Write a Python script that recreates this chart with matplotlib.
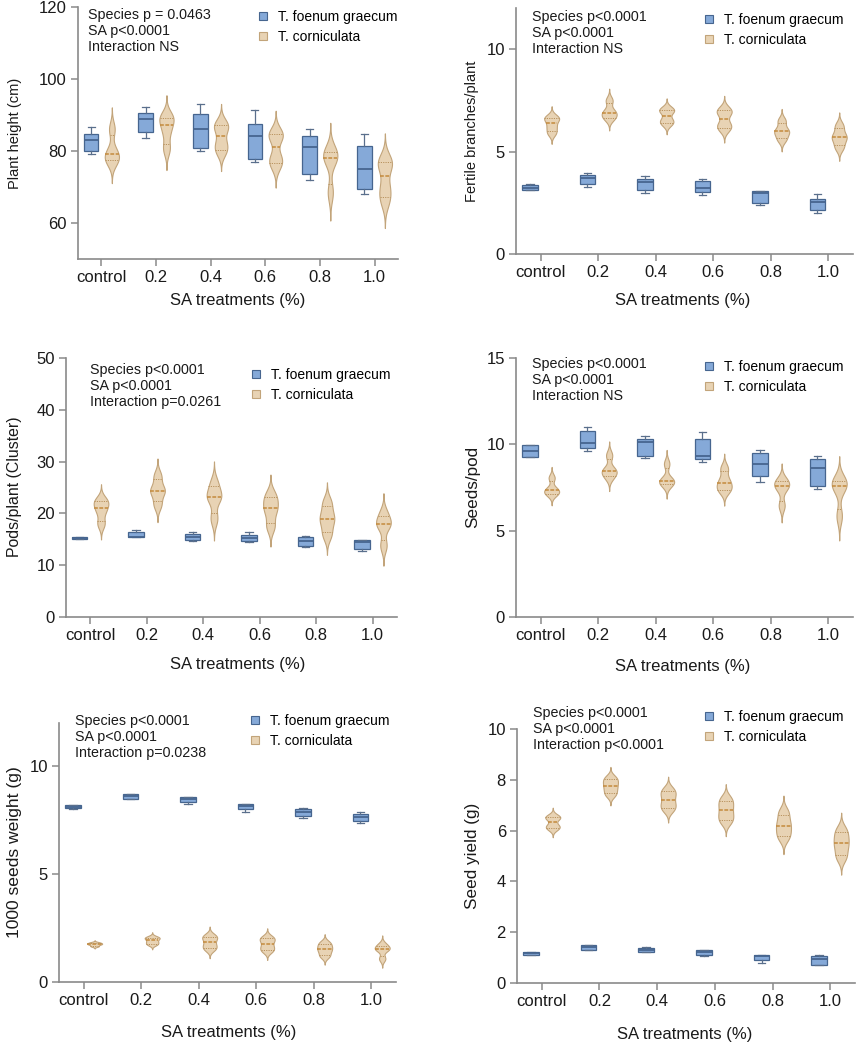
import numpy as np
import matplotlib
matplotlib.use("Agg")
import matplotlib.pyplot as plt
from matplotlib.lines import Line2D

plt.rcParams['font.family'] = ['Liberation Sans', 'DejaVu Sans']

treatments = ['control', '0.2', '0.4', '0.6', '0.8', '1.0']
species = ['T. foenum graecum', 'T. corniculata']

# box stats per treatment for T. foenum graecum: [min, q1, median, q3, max]
height_box = [[79.1, 80.0, 83.0, 84.8, 86.7], [83.7, 85.3, 89.0, 90.5, 92.1],
              [80.0, 80.9, 86.0, 90.2, 93.1], [77.0, 77.9, 84.2, 87.6, 91.3],
              [72.0, 73.5, 81.0, 84.1, 86.0], [68.1, 69.5, 75.0, 81.3, 84.6]]
branches_box = [[3.10, 3.11, 3.24, 3.39, 3.40], [3.29, 3.40, 3.71, 3.87, 3.95],
                [2.98, 3.14, 3.52, 3.68, 3.79], [2.90, 3.03, 3.23, 3.58, 3.68],
                [2.38, 2.51, 2.98, 3.08, 3.09], [2.01, 2.16, 2.53, 2.69, 2.92]]
pods_box = [[15.0, 15.0, 15.2, 15.5, 15.5], [15.35, 15.35, 15.5, 16.4, 16.8],
            [14.7, 14.8, 15.5, 16.1, 16.5], [14.5, 14.6, 15.3, 15.9, 16.5],
            [13.5, 13.7, 14.7, 15.35, 15.6], [12.8, 13.2, 14.4, 14.8, 14.9]]
seeds_box = [[9.27, 9.27, 9.6, 9.98, 9.98], [9.63, 9.79, 10.1, 10.8, 11.0],
             [9.23, 9.3, 10.15, 10.3, 10.5], [9.0, 9.17, 9.3, 10.3, 10.7],
             [7.8, 8.15, 8.88, 9.48, 9.69], [7.41, 7.6, 8.61, 9.15, 9.34]]
weight_box = [[8.03, 8.04, 8.12, 8.20, 8.22], [8.46, 8.49, 8.61, 8.70, 8.73],
              [8.24, 8.32, 8.46, 8.55, 8.58], [7.87, 8.01, 8.15, 8.24, 8.26],
              [7.58, 7.69, 7.87, 8.03, 8.07], [7.38, 7.44, 7.64, 7.78, 7.89]]
yield_box = [[1.12, 1.12, 1.18, 1.23, 1.23], [1.31, 1.31, 1.40, 1.48, 1.48],
             [1.21, 1.21, 1.30, 1.38, 1.40], [1.05, 1.12, 1.21, 1.29, 1.31],
             [0.79, 0.92, 1.05, 1.10, 1.11], [0.72, 0.72, 0.94, 1.05, 1.09]]

# replicate values for T. corniculata (violins)
height_vio = [[77.1, 78.2, 80.0, 86.1], [80.7, 85.5, 88.7, 89.5],
              [79.8, 82.2, 86.0, 87.7], [76.2, 78.2, 84.0, 84.8],
              [68.5, 77.5, 78.7, 80.0], [66.3, 70.0, 76.0, 77.2]]
branches_vio = [[5.90, 6.22, 6.56, 6.68], [6.60, 6.80, 6.98, 7.49],
                [6.35, 6.55, 6.95, 7.08], [6.10, 6.34, 6.86, 7.05],
                [5.58, 5.90, 6.06, 6.50], [5.20, 5.60, 5.80, 6.25]]
pods_vio = [[18.0, 20.4, 21.8, 22.6], [21.7, 24.1, 24.7, 27.2],
            [19.0, 23.0, 23.4, 25.8], [17.5, 20.3, 21.9, 23.6],
            [15.9, 18.3, 19.7, 22.1], [13.8, 17.8, 18.0, 20.0]]
seeds_vio = [[7.10, 7.26, 7.42, 8.06], [8.10, 8.42, 8.52, 9.36],
             [7.66, 7.90, 7.90, 8.87], [7.30, 7.58, 7.94, 8.61],
             [6.45, 7.45, 7.69, 7.92], [5.85, 7.45, 7.75, 7.90]]
weight_vio = [[1.66, 1.74, 1.78, 1.83], [1.74, 1.86, 2.00, 2.08],
              [1.52, 1.72, 1.98, 2.15], [1.44, 1.64, 1.90, 2.07],
              [1.20, 1.44, 1.62, 1.82], [1.08, 1.52, 1.54, 1.74]]
yield_vio = [[6.08, 6.20, 6.48, 6.56], [7.42, 7.66, 7.88, 8.08],
             [6.83, 7.07, 7.37, 7.61], [6.36, 6.64, 6.96, 7.25],
             [5.72, 6.04, 6.34, 6.73], [4.95, 5.35, 5.67, 6.02]]

stat_texts = ['Species p = 0.0463\nSA p<0.0001\nInteraction NS',
              'Species p<0.0001\nSA p<0.0001\nInteraction NS',
              'Species p<0.0001\nSA p<0.0001\nInteraction p=0.0261',
              'Species p<0.0001\nSA p<0.0001\nInteraction NS',
              'Species p<0.0001\nSA p<0.0001\nInteraction p=0.0238',
              'Species p<0.0001\nSA p<0.0001\nInteraction p<0.0001']
ylabels = ['Plant height (cm)', 'Fertile branches/plant', 'Pods/plant (Cluster)',
           'Seeds/pod', '1000 seeds weight (g)', 'Seed yield (g)']
ylims = [(50, 120), (0, 12), (0, 50), (0, 15), (0, 12), (0, 10)]
yticks = [[60, 80, 100, 120], [0, 5, 10], [0, 10, 20, 30, 40, 50],
          [0, 5, 10, 15], [0, 5, 10], [0, 2, 4, 6, 8, 10]]
box_data = [height_box, branches_box, pods_box, seeds_box, weight_box, yield_box]
vio_data = [height_vio, branches_vio, pods_vio, seeds_vio, weight_vio, yield_vio]

# layout in pixels: axes (left, right, top, bottom), text, legend, labels
W, H = 858, 1047
axes_px = [(78, 398, 7, 259), (516, 853, 8, 254), (66, 397, 358, 617),
           (516, 853, 358, 617), (59, 396, 723, 982), (517, 855, 729, 983)]
text_px = [(88, 31), (532, 33), (90, 386), (532, 380), (75, 737), (533, 729)]
legend_px = [(256, 27), (702, 30), (249, 385), (702, 377), (248, 731), (702, 727)]
ylabel_px = [(15, 133), (472, 131), (15, 487), (473, 487), (15, 852), (472, 856)]
ylabel_fs = [10.5, 10.5, 11.4, 12.3, 12.6, 12.3]
xlabel_px = [(238, 300), (683, 300), (238, 665), (683, 667), (229, 1033), (685, 1035)]

BOX_FACE = '#85a9d8'
BOX_EDGE = '#46658f'
VIO_FACE = '#e8d3b4'
VIO_EDGE = '#c2a47a'
VIO_LINE = '#b8925e'
VIO_MED = '#c48a3c'
SPINE = '#8a8a8a'


def kde_stats(samples, bw=0.5, cut=3.0, n=240):
    s = np.asarray(samples, float)
    h = bw * s.std(ddof=1)
    y = np.linspace(s.min() - cut * h, s.max() + cut * h, n)
    dens = np.exp(-0.5 * ((y[:, None] - s[None, :]) / h) ** 2).sum(axis=1)
    return dict(coords=y, vals=dens, mean=s.mean(), median=np.median(s),
                min=s.min(), max=s.max())


fig = plt.figure(figsize=(W / 100, H / 100), dpi=100)
x = np.arange(len(treatments))
off = 0.19
box_w = 0.27
vio_w = 0.26

for i in range(6):
    l, r, t, b = axes_px[i]
    ax = fig.add_axes([l / W, 1 - b / H, (r - l) / W, (b - t) / H])

    stats = [dict(whislo=v[0], q1=v[1], med=v[2], q3=v[3], whishi=v[4], fliers=[])
             for v in box_data[i]]
    ax.bxp(stats, positions=x - off, widths=box_w, capwidths=0.13, patch_artist=True,
           showfliers=False,
           boxprops=dict(facecolor=BOX_FACE, edgecolor=BOX_EDGE, linewidth=0.9),
           medianprops=dict(color=BOX_EDGE, linewidth=1.3),
           whiskerprops=dict(color='#5a6f8c', linewidth=0.9),
           capprops=dict(color='#5a6f8c', linewidth=0.9))

    vstats = [kde_stats(s) for s in vio_data[i]]
    parts = ax.violin(vstats, positions=x + off, widths=vio_w,
                      showmeans=False, showextrema=False, showmedians=False)
    for body in parts['bodies']:
        body.set_facecolor(VIO_FACE)
        body.set_edgecolor(VIO_EDGE)
        body.set_linewidth(0.8)
        body.set_alpha(1)
    for pos, s, st in zip(x + off, vio_data[i], vstats):
        q = np.percentile(s, [25, 50, 75], method='weibull')
        hw = 0.5 * vio_w * np.interp(q, st['coords'], st['vals']) / st['vals'].max()
        for k in range(3):
            if k == 1:
                ax.plot([pos - hw[k], pos + hw[k]], [q[k], q[k]], color=VIO_MED,
                        lw=1.1, ls=(0, (2.5, 1)), zorder=3)
            else:
                ax.plot([pos - hw[k], pos + hw[k]], [q[k], q[k]], color=VIO_LINE,
                        lw=0.7, ls=(0, (1.2, 1.2)), zorder=3)

    ax.set_xlim(-0.43, 5.43)
    ax.set_ylim(*ylims[i])
    ax.set_yticks(yticks[i])
    ax.set_xticks(x)
    ax.set_xticklabels(treatments)
    for side in ['top', 'right']:
        ax.spines[side].set_visible(False)
    for side in ['left', 'bottom']:
        ax.spines[side].set_color(SPINE)
        ax.spines[side].set_linewidth(1.2)
    ax.tick_params(axis='both', colors=SPINE, labelcolor='#1a1a1a',
                   labelsize=12, length=5, width=1.1, pad=3)
    ax.set_facecolor('none')

    tx, ty = text_px[i]
    fig.text(tx / W, 1 - ty / H, stat_texts[i], fontsize=10.3, va='center',
             ha='left', linespacing=1.2, color='#1a1a1a')

    handles = [Line2D([], [], ls='none', marker='s', markersize=5.5,
                      markerfacecolor=BOX_FACE, markeredgecolor=BOX_EDGE, markeredgewidth=0.8),
               Line2D([], [], ls='none', marker='s', markersize=5.5,
                      markerfacecolor=VIO_FACE, markeredgecolor=VIO_EDGE, markeredgewidth=0.8)]
    lx, ly = legend_px[i]
    ax.legend(handles, species, loc='center left', bbox_to_anchor=(lx / W, 1 - ly / H),
              bbox_transform=fig.transFigure, frameon=False, fontsize=10,
              handlelength=1.0, handletextpad=0.6, labelspacing=0.4,
              borderpad=0, borderaxespad=0)

    yx, yy = ylabel_px[i]
    fig.text(yx / W, 1 - yy / H, ylabels[i], rotation=90, fontsize=ylabel_fs[i],
             ha='center', va='center', color='#1a1a1a')
    xx, xy = xlabel_px[i]
    fig.text(xx / W, 1 - xy / H, 'SA treatments (%)', fontsize=12,
             ha='center', va='center', color='#1a1a1a')

fig.savefig('out.png', dpi=100)
